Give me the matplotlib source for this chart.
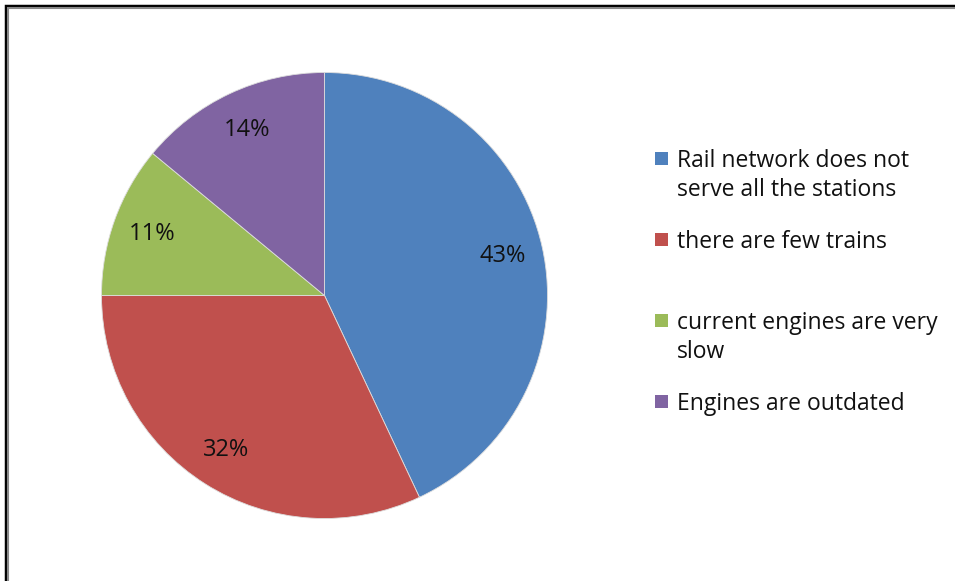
import matplotlib
matplotlib.use("Agg")
import matplotlib.pyplot as plt
from matplotlib.patches import Rectangle

categories = ["Rail network does not\nserve all the stations",
              "there are few trains",
              "current engines are very\nslow",
              "Engines are outdated"]
values = [43, 32, 11, 14]
colors = ["#4F81BD", "#C0504D", "#9BBB59", "#8064A2"]

plt.rcParams['font.family'] = ['Open Sans', 'DejaVu Sans']

W, H = 955, 581
fig = plt.figure(figsize=(W / 100, H / 100), dpi=100)
fig.patch.set_facecolor("white")

# frame (top and left edges visible; extends past right/bottom)
fig.add_artist(Rectangle((5.5 / W, -0.1), 1.2, (H - 5.5) / H + 0.1,
                         transform=fig.transFigure, fill=False,
                         edgecolor="black", linewidth=2.5))
fig.add_artist(Rectangle((7.5 / W, -0.1), 1.2, (H - 7.5) / H + 0.1,
                         transform=fig.transFigure, fill=False,
                         edgecolor="#888888", linewidth=1.5))

cx, cy, r = 324.5, 295.5, 223
ax = fig.add_axes([(cx - r) / W, (H - cy - r) / H, 2 * r / W, 2 * r / H])
wedges, texts, autotexts = ax.pie(
    values, colors=colors, startangle=90, counterclock=False,
    autopct=lambda p: f"{p:.0f}%", pctdistance=0.82, radius=1,
    wedgeprops=dict(edgecolor="#dddddd", linewidth=0.6),
    textprops=dict(fontsize=17, color="#111111"))
ax.set_xlim(-1, 1)
ax.set_ylim(-1, 1)
ax.set_aspect("equal")
ax.axis("off")

# legend drawn manually
y0, dy, lh = 158.5, 81, 29.5
for i, (lab, col) in enumerate(zip(categories, colors)):
    y = y0 + dy * i
    fig.add_artist(Rectangle((655 / W, (H - y - 6.5) / H), 13 / W, 13 / H,
                             transform=fig.transFigure, facecolor=col,
                             edgecolor="none"))
    for j, line in enumerate(lab.split("\n")):
        fig.text(677 / W, (H - (y + 8.5 + j * lh)) / H, line, fontsize=16.5,
                 color="#111111", va="baseline", ha="left",
                 transform=fig.transFigure)

fig.savefig("out.png", dpi=100, facecolor="white")
